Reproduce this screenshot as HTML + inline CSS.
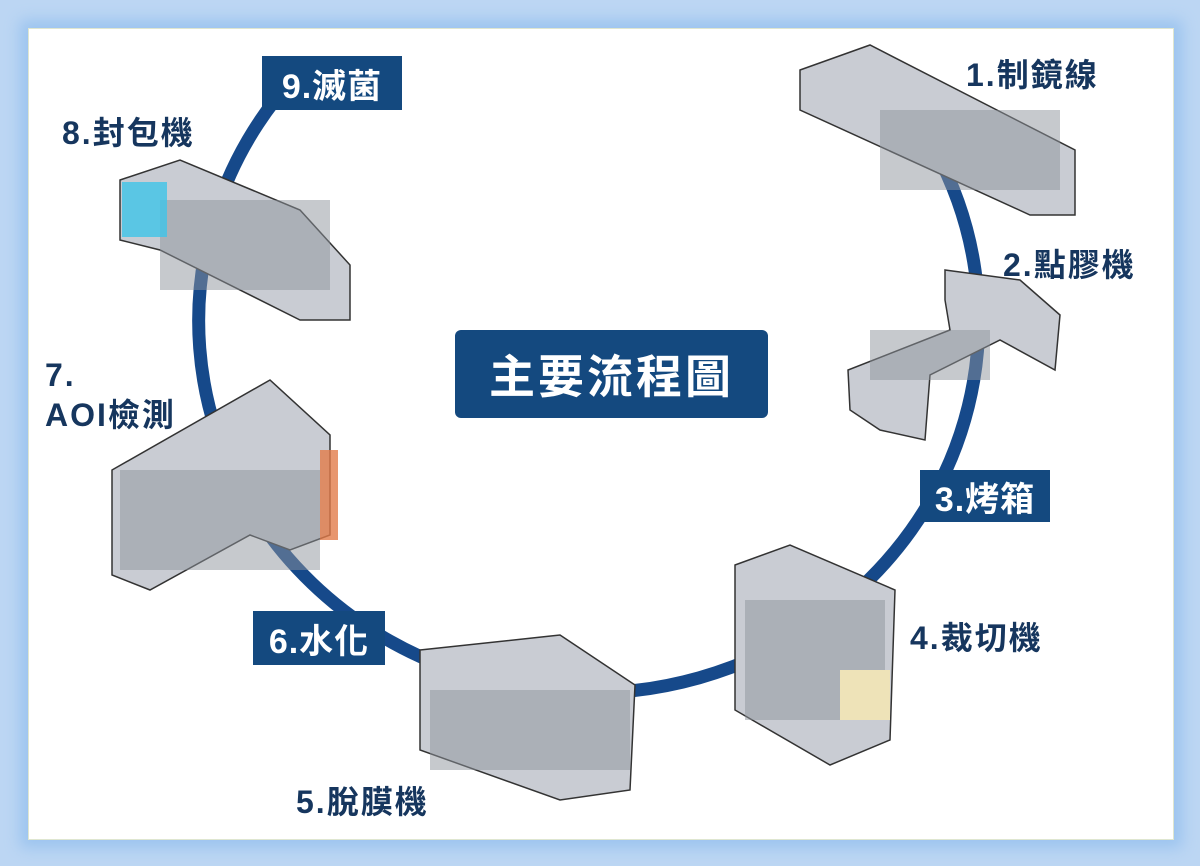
<!DOCTYPE html>
<html><head><meta charset="utf-8"><style>
html,body{margin:0;padding:0}
body{width:1200px;height:866px;background:#bcd6f3;position:relative;overflow:hidden;font-family:"Liberation Sans","Noto Sans CJK TC",sans-serif}
.frame{position:absolute;left:28px;top:28px;width:1144px;height:810px;background:#fff;box-shadow:0 0 14px 8px #9cc4ef;border:1px solid #dfe6d0}
.box{position:absolute;background:#14497f;color:#fff;font-size:34px;display:flex;align-items:center;justify-content:center;letter-spacing:1px;font-weight:bold}
.lbl{position:absolute;color:#16365e;font-size:32px;letter-spacing:2px;line-height:40px;font-weight:bold}
svg{position:absolute;left:0;top:0}
</style></head><body>
<div class="frame"></div>
<svg width="1200" height="866">
<path d="M275 100 A390 372 0 1 0 935 150" fill="none" stroke="#16498a" stroke-width="13"/>
<g fill="#c9ccd3" stroke="#333" stroke-width="1.5">
<polygon points="800,70 870,45 1075,150 1075,215 1030,215 800,110"/>
<polygon points="945,270 1020,280 1060,315 1055,370 1000,340 930,375 925,440 880,430 850,410 848,370 950,330 945,300"/>
<polygon points="735,565 790,545 895,590 890,740 830,765 735,710"/>
<polygon points="420,650 560,635 635,685 630,790 560,800 420,750"/>
<polygon points="112,470 270,380 330,435 330,535 290,550 250,535 150,590 112,575"/>
<polygon points="120,180 180,160 300,210 350,265 350,320 300,320 160,250 120,240"/>
</g>
<g fill="#8e939c"><rect x="880" y="110" width="180" height="80" opacity=".5"/><rect x="870" y="330" width="120" height="50" opacity=".5"/><rect x="745" y="600" width="140" height="120" opacity=".5"/><rect x="430" y="690" width="200" height="80" opacity=".5"/><rect x="120" y="470" width="200" height="100" opacity=".5"/><rect x="160" y="200" width="170" height="90" opacity=".5"/></g>
<rect x="122" y="182" width="45" height="55" fill="#3ec4e8" opacity=".8"/>
<rect x="320" y="450" width="18" height="90" fill="#e27c4a" opacity=".8"/>
<rect x="840" y="670" width="50" height="50" fill="#eee3b8"/>
</svg>
<div class="box" style="left:262px;top:56px;width:140px;height:54px">9.滅菌</div>
<div class="box" style="left:920px;top:470px;width:130px;height:52px">3.烤箱</div>
<div class="box" style="left:253px;top:611px;width:132px;height:54px">6.水化</div>
<div class="box" style="left:455px;top:330px;width:313px;height:88px;border-radius:6px;font-size:46px;letter-spacing:3px">主要流程圖</div>
<div class="lbl" style="left:966px;top:55px">1.制鏡線</div>
<div class="lbl" style="left:1003px;top:245px">2.點膠機</div>
<div class="lbl" style="left:910px;top:618px">4.裁切機</div>
<div class="lbl" style="left:296px;top:782px">5.脫膜機</div>
<div class="lbl" style="left:45px;top:355px">7.<br>AOI檢測</div>
<div class="lbl" style="left:62px;top:113px">8.封包機</div>
</body></html>
